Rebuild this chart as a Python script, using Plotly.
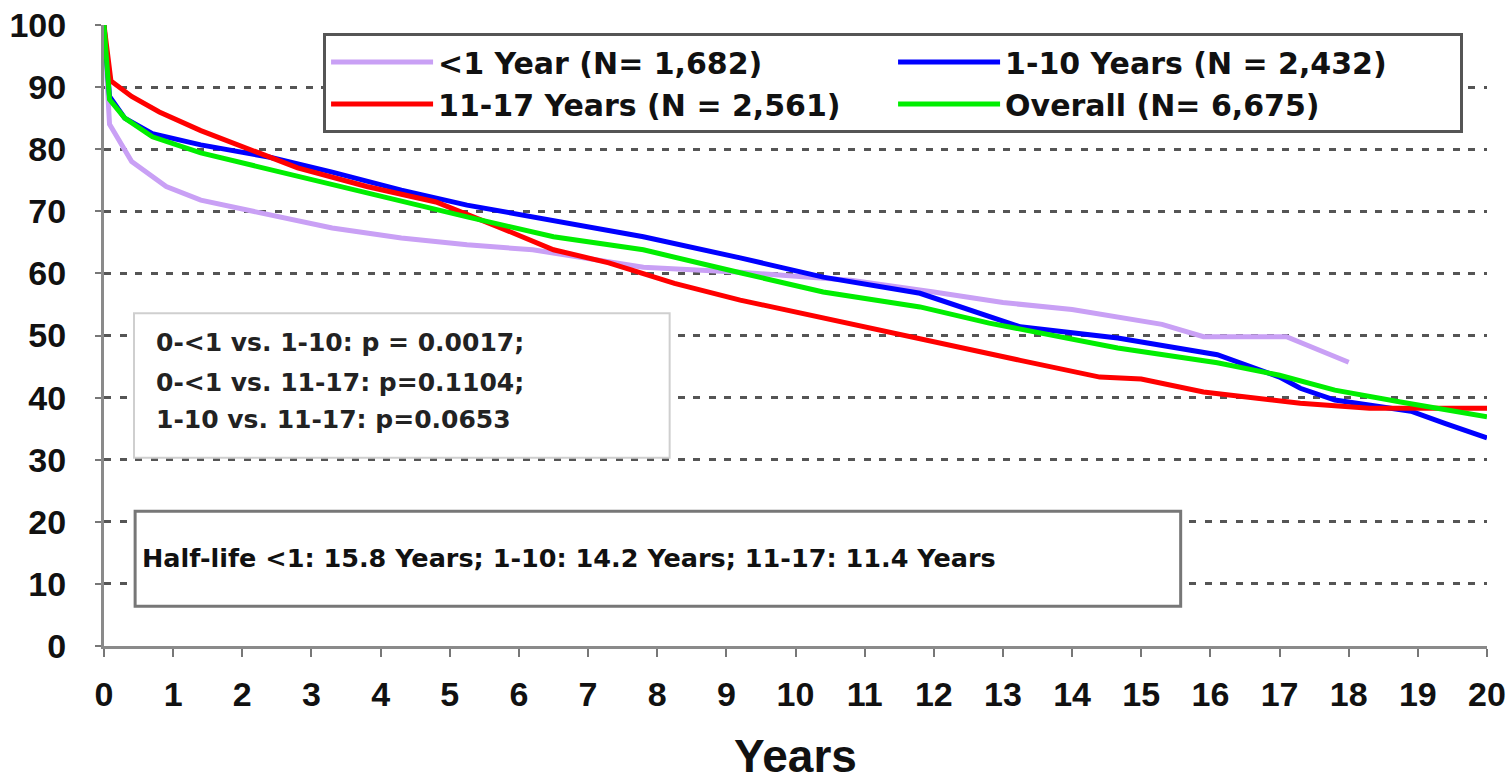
import plotly.graph_objects as go

# ---------------- data ----------------
yrs_lt1 = [0, 0.08, 0.4, 0.9, 1.4, 2.3, 3.3, 4.3, 5.25, 6.2, 7.0, 7.8, 9.2, 10.0, 10.8, 12.0, 12.5, 13.0, 14.0, 14.7, 15.3, 15.9, 17.1, 18.0]
val_lt1 = [100, 84, 78, 74, 71.8, 69.6, 67.3, 65.7, 64.6, 63.8, 62.5, 61.0, 60.2, 59.5, 58.9, 57.0, 56.2, 55.3, 54.2, 53.0, 51.8, 49.8, 49.8, 45.7]

yrs_1_10 = [0, 0.08, 0.3, 0.7, 1.4, 2.4, 3.3, 4.3, 5.25, 6.3, 7.8, 9.2, 10.4, 11.8, 12.5, 13.25, 14.66, 16.1, 17.0, 17.3, 17.8, 18.3, 18.9, 19.4, 20.0]
val_1_10 = [100, 88.5, 85, 82.5, 80.7, 78.7, 76.3, 73.4, 71.0, 68.9, 65.9, 62.5, 59.4, 56.8, 54.1, 51.4, 49.6, 46.9, 43.3, 41.5, 39.6, 38.8, 37.8, 35.8, 33.5]

yrs_11_17 = [0, 0.1, 0.4, 0.8, 1.4, 2.8, 3.8, 4.8, 5.7, 6.5, 7.3, 8.25, 9.2, 10.4, 11.8, 13.25, 14.4, 15.0, 15.9, 17.3, 18.3, 20.0]
val_11_17 = [100, 91, 88.5, 86, 83, 77, 74, 71.5, 67.5, 63.8, 61.7, 58.4, 55.7, 52.8, 49.3, 46.0, 43.3, 43.0, 40.9, 39.1, 38.3, 38.3]

yrs_all = [0, 0.08, 0.3, 0.7, 1.4, 2.4, 3.3, 4.3, 5.25, 6.5, 7.8, 9.2, 10.4, 11.8, 12.8, 14.66, 16.1, 17.0, 17.8, 18.75, 20.0]
val_all = [100, 88, 85, 82, 79.4, 76.7, 74.2, 71.5, 69.1, 65.9, 63.8, 60.1, 57.0, 54.6, 52.0, 48.0, 45.6, 43.6, 41.2, 39.3, 36.9]

series_names = ["<1 Year (N= 1,682)", "1-10 Years (N = 2,432)", "11-17 Years (N = 2,561)", "Overall (N= 6,675)"]
series_colors = ["#c9a0f5", "#0000ff", "#ff0000", "#00ee00"]

x_ticks = list(range(0, 21))
y_ticks = list(range(0, 101, 10))

pvalue_lines = ["0-<1 vs. 1-10: p = 0.0017;", "0-<1 vs. 11-17: p=0.1104;", "1-10 vs. 11-17: p=0.0653"]
halflife_text = "Half-life <1: 15.8 Years; 1-10: 14.2 Years; 11-17: 11.4 Years"
x_title = "Years"

# ---------------- figure ----------------
fig = go.Figure()
for xs, ys, nm, col in zip([yrs_lt1, yrs_1_10, yrs_11_17, yrs_all],
                           [val_lt1, val_1_10, val_11_17, val_all],
                           series_names, series_colors):
    fig.add_trace(go.Scatter(x=xs, y=ys, mode="lines", name=nm,
                             line=dict(color=col, width=5)))

TICK_FONT = dict(family="Liberation Sans, Arial, sans-serif", size=34, color="#111", weight="bold")
TEXT_FONT = "DejaVu Sans, Verdana, sans-serif"

fig.update_layout(
    width=1508, height=782,
    margin=dict(l=104, r=21, t=25, b=136, autoexpand=False),
    paper_bgcolor="white", plot_bgcolor="white",
    showlegend=True,
    legend=dict(orientation="h", x=0.1584, y=0.987, xanchor="left", yanchor="top",
                bgcolor="white", bordercolor="#555", borderwidth=3,
                font=dict(family=TEXT_FONT, size=30, color="#111", weight="bold"),
                entrywidth=450, entrywidthmode="pixels", tracegroupgap=0,
                itemwidth=102),
    xaxis=dict(range=[0, 20], tickvals=x_ticks, showgrid=False, zeroline=False,
               showline=True, linecolor="#8a8a8a", linewidth=3,
               ticks="outside", ticklen=8, tickwidth=2, tickcolor="#777",
               tickfont=TICK_FONT, ticklabelstandoff=8,
               title=dict(text=x_title, font=dict(family="Liberation Sans, Arial, sans-serif", size=46, color="#111", weight="bold"), standoff=50)),
    yaxis=dict(range=[0, 100], tickvals=y_ticks, showgrid=True, gridcolor="#555",
               griddash="7px,8.5px", gridwidth=2.5, zeroline=False,
               showline=True, linecolor="#8a8a8a", linewidth=3,
               ticks="outside", ticklen=6, tickwidth=2, tickcolor="#777",
               tickfont=TICK_FONT, ticklabelstandoff=22),
)

# annotation boxes (layout decorations, in data coordinates)
fig.add_shape(type="rect", x0=0.434, x1=8.18, y0=30.3, y1=53.6, xref="x", yref="y",
              line=dict(color="#cfcfcf", width=2), fillcolor="white", layer="above")
fig.add_shape(type="rect", x0=0.45, x1=15.57, y0=6.4, y1=21.7, xref="x", yref="y",
              line=dict(color="#777", width=3), fillcolor="white", layer="above")

p_y = [48.95, 42.5, 36.4]
for txt, yy in zip(pvalue_lines, p_y):
    fig.add_annotation(x=0.72, y=yy, xref="x", yref="y", text=txt, showarrow=False,
                       xanchor="left", yanchor="middle",
                       font=dict(family=TEXT_FONT, size=25, color="#222", weight="bold"))

fig.add_annotation(x=0.52, y=14.2, xref="x", yref="y", text=halflife_text, showarrow=False,
                   xanchor="left", yanchor="middle",
                   font=dict(family=TEXT_FONT, size=25.5, color="#111", weight="bold"))

fig.write_html("out.html")
